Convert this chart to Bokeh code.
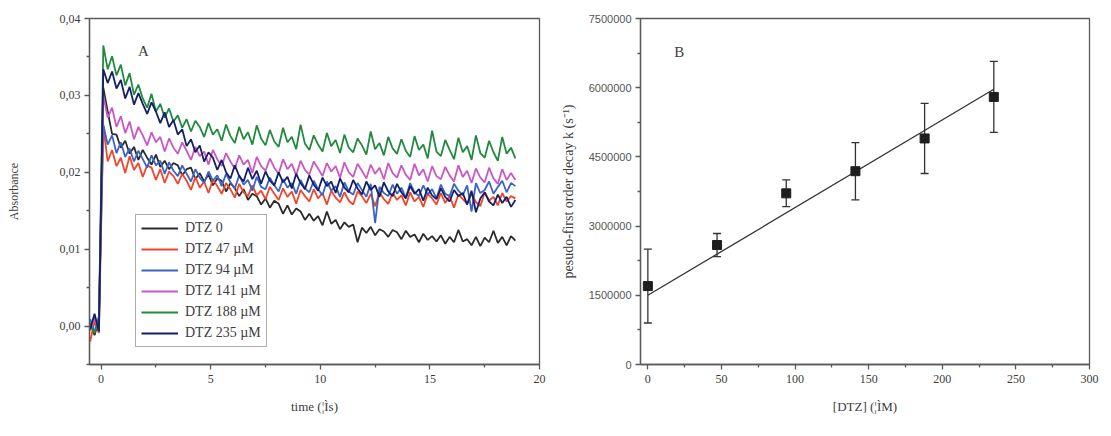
from bokeh.plotting import figure
from bokeh.layouts import row
from bokeh.models import (ColumnDataSource, FixedTicker, CustomJSTickFormatter,
                          Label, Whisker, TeeHead)
from bokeh.embed import file_html
from bokeh.resources import INLINE

# ---------------- panel A: transient absorbance traces ----------------
t_start = -0.5      # µs, first sample of the record
t_step = 0.2        # µs between samples

series_labels = ["DTZ 0", "DTZ 47 µM", "DTZ 94 µM", "DTZ 141 µM", "DTZ 188 µM", "DTZ 235 µM"]
series_colors = ["#2b2b2b", "#f0452a", "#3b62c8", "#c957c4", "#22893f", "#141f66"]

# absorbance in mOD
dtz_0_mod = [
    0.4, -1.2, 0.8,
    31.0, 27.9, 25.0, 24.9, 23.2, 24.1, 22.4,
    23.3, 21.6, 22.9, 21.9, 21.0, 22.3, 20.7, 21.5, 20.4, 21.2,
    20.9, 19.6, 20.4, 20.6, 19.1, 19.9, 18.8, 19.7, 18.3, 19.2,
    18.9, 17.5, 18.6, 17.9, 16.9, 17.8, 16.4, 17.2, 16.9, 15.8,
    16.6, 15.4, 16.3, 15.9, 14.6, 15.7, 14.5, 15.3, 14.9, 13.8,
    14.6, 13.7, 14.3, 13.1, 14.9, 13.3, 13.8, 12.6, 13.5, 12.9,
    13.2, 10.9, 12.8, 12.1, 12.9, 11.8, 12.6, 12.3, 11.6, 12.5,
    12.2, 11.3, 12.4, 11.6, 11.9, 10.9, 12.0, 11.2, 11.7, 11.0,
    11.8, 10.7, 11.6, 10.9, 12.5, 11.0, 11.3, 10.5, 11.6, 10.4,
    11.5, 10.9, 12.4, 10.8, 11.6, 10.5, 11.7, 11.1,
]
dtz_47_mod = [
    -2.0, 0.6, -0.9,
    26.0, 21.4, 22.9, 20.8, 21.9, 19.9, 22.1,
    20.3, 21.2, 19.4, 20.9, 20.6, 19.0, 20.4, 18.6, 20.1, 19.5,
    18.5, 19.8, 18.9, 17.7, 19.4, 18.0, 18.8, 17.3, 19.1, 18.2,
    17.2, 18.6, 17.8, 16.7, 18.5, 17.4, 16.9, 18.3, 17.0, 17.6,
    16.5, 18.1, 17.2, 16.4, 17.9, 16.8, 17.5, 15.9, 17.7, 16.9,
    16.2, 17.8, 16.6, 17.3, 15.8, 17.6, 16.7, 16.1, 17.4, 16.3,
    15.8, 17.5, 16.9, 16.0, 17.2, 15.6, 17.4, 16.5, 15.9, 17.3,
    16.4, 17.0, 15.7, 17.4, 16.2, 16.8, 15.5, 17.2, 16.6, 15.8,
    17.3, 16.0, 16.9, 15.4, 17.1, 16.5, 15.9, 17.2, 16.1, 15.6,
    17.4, 16.3, 16.8, 15.7, 17.3, 16.2, 16.9, 16.6,
]
dtz_94_mod = [
    0.9, -0.8, 1.3,
    26.2, 23.6, 24.8, 22.5, 23.9, 22.0, 23.1,
    21.4, 22.8, 21.7, 20.6, 22.2, 20.9, 21.5, 19.8, 21.3, 20.2,
    19.5, 20.9, 19.8, 18.8, 20.4, 19.3, 18.6, 20.1, 18.9, 19.6,
    18.2, 19.8, 18.7, 17.9, 19.6, 18.4, 19.0, 17.6, 19.4, 18.1,
    17.8, 19.3, 18.3, 17.5, 19.1, 18.0, 18.6, 17.2, 19.0, 17.9,
    17.4, 18.9, 17.8, 17.0, 18.8, 17.6, 18.2, 16.8, 18.7, 17.5,
    17.1, 18.6, 17.7, 16.8, 18.5, 13.4, 18.1, 17.3, 16.9, 18.4,
    17.2, 18.0, 16.7, 18.6, 17.4, 16.9, 18.3, 17.1, 17.8, 16.6,
    18.4, 17.2, 16.9, 18.5, 17.6, 17.0, 18.3, 14.9, 18.6, 17.3,
    17.7, 18.8, 17.2, 18.1, 18.9, 17.4, 18.6, 18.2,
]
dtz_141_mod = [
    -0.6, 1.1, -0.3,
    30.0, 27.1, 28.4, 25.9, 27.3, 25.1, 26.6,
    24.3, 25.9, 24.8, 23.5, 25.2, 23.9, 24.6, 22.7, 24.4, 23.2,
    22.4, 23.9, 22.8, 21.6, 23.3, 22.1, 22.7, 21.0, 22.9, 21.7,
    20.8, 22.5, 21.4, 20.5, 22.2, 21.0, 21.6, 19.9, 22.0, 20.8,
    20.2, 21.8, 20.6, 19.8, 21.7, 20.4, 21.1, 19.6, 21.5, 20.3,
    19.7, 21.4, 20.5, 19.5, 21.2, 20.1, 20.8, 19.3, 21.3, 20.0,
    19.4, 21.1, 20.2, 19.2, 21.0, 19.8, 20.6, 19.1, 21.2, 19.9,
    19.3, 20.9, 19.7, 19.0, 21.1, 19.6, 20.4, 18.8, 20.8, 19.5,
    19.1, 20.7, 19.6, 18.8, 20.9, 19.4, 20.2, 18.6, 20.5, 19.3,
    18.7, 20.6, 19.2, 18.5, 20.4, 19.0, 19.9, 19.0,
]
dtz_188_mod = [
    0.2, -0.9, 0.7,
    36.5, 33.4, 35.1, 32.6, 34.0, 31.3, 32.9,
    30.1, 31.4, 29.6, 28.4, 30.2, 27.9, 28.9, 27.1, 28.3, 26.6,
    27.4, 25.8, 26.9, 25.3, 26.7, 25.9, 24.6, 26.4, 24.9, 25.6,
    24.1, 26.2, 24.7, 23.8, 25.9, 24.3, 25.2, 23.6, 26.1, 24.4,
    23.5, 25.5, 24.0, 23.3, 25.8, 23.9, 24.6, 23.0, 26.2, 23.7,
    22.9, 24.8, 23.6, 22.7, 25.1, 23.4, 24.2, 22.5, 24.9, 23.2,
    22.6, 24.4, 23.5, 22.3, 25.3, 23.0, 23.8, 22.2, 24.6, 23.1,
    22.4, 24.3, 22.8, 22.0, 24.7, 22.9, 23.6, 21.8, 25.4, 22.7,
    22.1, 24.2, 22.9, 21.7, 24.5, 22.6, 23.4, 21.6, 24.8, 22.5,
    21.9, 24.1, 22.6, 21.5, 24.6, 22.4, 23.2, 21.8,
]
dtz_235_mod = [
    -0.4, 1.6, -0.7,
    33.4, 31.6, 33.1, 30.9, 32.0, 29.6, 31.1,
    28.8, 30.3, 28.9, 27.6, 29.1, 27.9, 26.4, 27.8, 25.9, 26.8,
    24.9, 25.6, 23.4, 24.3, 22.6, 23.5, 21.4, 22.6, 21.9, 20.3,
    21.6, 20.0, 19.2, 20.9, 19.5, 18.8, 20.6, 19.1, 20.2, 18.5,
    20.1, 18.9, 18.3, 20.0, 18.7, 19.4, 17.9, 19.8, 18.6, 17.8,
    19.6, 18.4, 17.6, 19.3, 18.2, 18.8, 17.3, 19.2, 18.0, 17.4,
    19.0, 17.9, 17.1, 18.8, 17.7, 18.3, 16.8, 18.7, 17.5, 16.9,
    18.5, 17.4, 16.6, 18.2, 17.2, 17.8, 16.3, 18.0, 17.0, 16.5,
    17.9, 16.8, 16.2, 17.7, 16.9, 17.3, 15.8, 17.6, 14.8, 16.6,
    17.4, 16.2, 15.7, 17.1, 16.0, 16.8, 15.5, 16.4,
]
traces_mod = [dtz_0_mod, dtz_47_mod, dtz_94_mod, dtz_141_mod, dtz_188_mod, dtz_235_mod]

# ---------------- panel B: pseudo-first-order rate constants ----------------
dtz_conc = [0, 47, 94, 141, 188, 235]                       # µM
k_obs = [1.70e6, 2.59e6, 3.71e6, 4.19e6, 4.90e6, 5.80e6]    # s^-1
k_err = [0.80e6, 0.25e6, 0.29e6, 0.62e6, 0.76e6, 0.77e6]    # s^-1
fit_intercept = 1.50e6
fit_slope = 1.90e4

SERIF = "Liberation Serif"
SANS = "Liberation Sans"
AXIS_GRAY = "#5a5a5a"
TEXT_GRAY = "#3c3c3c"


def style_axes(p, tick_font, tick_size):
    p.outline_line_color = AXIS_GRAY
    p.outline_line_width = 1.3
    p.grid.visible = False
    for ax in (p.xaxis[0], p.yaxis[0]):
        ax.axis_line_color = AXIS_GRAY
        ax.axis_line_width = 1.3
        ax.major_tick_line_color = AXIS_GRAY
        ax.minor_tick_line_color = AXIS_GRAY
        ax.major_tick_line_width = 1.3
        ax.minor_tick_line_width = 1.3
        ax.major_tick_in = 0
        ax.major_tick_out = 5
        ax.minor_tick_in = 0
        ax.minor_tick_out = 3
        ax.major_label_text_color = TEXT_GRAY
        ax.major_label_text_font_size = "12px"
        ax.axis_label_text_font = SERIF
        ax.axis_label_text_font_style = "normal"
        ax.axis_label_text_font_size = "13px"
        ax.axis_label_text_color = TEXT_GRAY
    p.xaxis[0].major_label_text_font = SERIF
    p.yaxis[0].major_label_text_font = tick_font
    p.yaxis[0].major_label_text_font_size = tick_size
    p.xaxis[0].major_label_standoff = 5
    p.yaxis[0].major_label_standoff = 4


# ---- panel A ----
pa = figure(width=550, height=436, x_range=(-0.53, 20), y_range=(-0.005, 0.04),
            output_backend="svg", toolbar_location=None,
            min_border_left=89, min_border_right=11, min_border_top=18, min_border_bottom=72,
            x_axis_label="time (¦Ìs)", y_axis_label="Absorbance")
style_axes(pa, SERIF, "12px")
pa.xaxis[0].ticker = FixedTicker(ticks=[0, 5, 10, 15, 20], minor_ticks=[2.5, 7.5, 12.5, 17.5])
pa.yaxis[0].ticker = FixedTicker(ticks=[0.0, 0.01, 0.02, 0.03, 0.04],
                                 minor_ticks=[-0.005, 0.005, 0.015, 0.025, 0.035])
pa.yaxis[0].formatter = CustomJSTickFormatter(code="return tick.toFixed(2).replace('.', ',');")
pa.xaxis[0].axis_label_standoff = 13
pa.yaxis[0].axis_label_standoff = 36
pa.yaxis[0].axis_label_text_font_size = "12px"

times = [t_start + t_step * i for i in range(len(dtz_0_mod))]
for label, color, vals in zip(series_labels, series_colors, traces_mod):
    pa.line(times, [v / 1000.0 for v in vals], line_color=color, line_width=1.8,
            line_join="bevel", legend_label=label)

lg = pa.legend[0]
lg.location = (46, 17)
lg.border_line_color = AXIS_GRAY
lg.border_line_width = 1.5
lg.background_fill_alpha = 1.0
lg.label_text_font = SERIF
lg.label_text_font_size = "14px"
lg.label_text_color = TEXT_GRAY
lg.glyph_width = 37
lg.glyph_height = 16
lg.label_height = 16
lg.spacing = 5
lg.padding = 5
lg.margin = 0
lg.label_standoff = 7

pa.add_layout(Label(x=1.93, y=0.0358, text="A", text_font=SERIF, text_font_size="15px",
                    text_color=TEXT_GRAY, text_align="center", text_baseline="middle"))

# ---- panel B ----
pb = figure(width=561, height=436, x_range=(-5, 300), y_range=(0, 7.5e6),
            output_backend="svg", toolbar_location=None,
            min_border_left=90, min_border_right=22, min_border_top=18, min_border_bottom=72,
            x_axis_label="[DTZ] (¦ÌM)", y_axis_label="pesudo-first order decay k (s⁻¹)")
style_axes(pb, SANS, "11px")
pb.xaxis[0].ticker = FixedTicker(ticks=[0, 50, 100, 150, 200, 250, 300],
                                 minor_ticks=[25, 75, 125, 175, 225, 275])
pb.yaxis[0].ticker = FixedTicker(ticks=[0, 1.5e6, 3e6, 4.5e6, 6e6, 7.5e6],
                                 minor_ticks=[7.5e5, 2.25e6, 3.75e6, 5.25e6, 6.75e6])
pb.yaxis[0].formatter = CustomJSTickFormatter(code="return tick.toFixed(0);")
pb.yaxis[0].major_label_text_color = "#555555"
pb.xaxis[0].axis_label_standoff = 13
pb.yaxis[0].axis_label_standoff = 10
pb.yaxis[0].axis_label_text_font_size = "14px"

fit_x = [dtz_conc[0], dtz_conc[-1]]
fit_y = [fit_intercept + fit_slope * x for x in fit_x]
pb.line(fit_x, fit_y, line_color="#333333", line_width=1.3)

src = ColumnDataSource(data=dict(
    x=dtz_conc, k=k_obs,
    upper=[k + e for k, e in zip(k_obs, k_err)],
    lower=[k - e for k, e in zip(k_obs, k_err)],
))
pb.add_layout(Whisker(base="x", upper="upper", lower="lower", source=src,
                      line_color="#333333", line_width=1.3,
                      upper_head=TeeHead(size=8, line_color="#333333", line_width=1.3),
                      lower_head=TeeHead(size=8, line_color="#333333", line_width=1.3)))
pb.scatter("x", "k", source=src, marker="square", size=9, fill_color="#1e1e1e",
           line_color="#1e1e1e")

pb.add_layout(Label(x=21.3, y=6.77e6, text="B", text_font=SERIF, text_font_size="15px",
                    text_color=TEXT_GRAY, text_align="center", text_baseline="middle"))

layout = row(pa, pb)
open("out.html", "w").write(file_html(layout, INLINE))
